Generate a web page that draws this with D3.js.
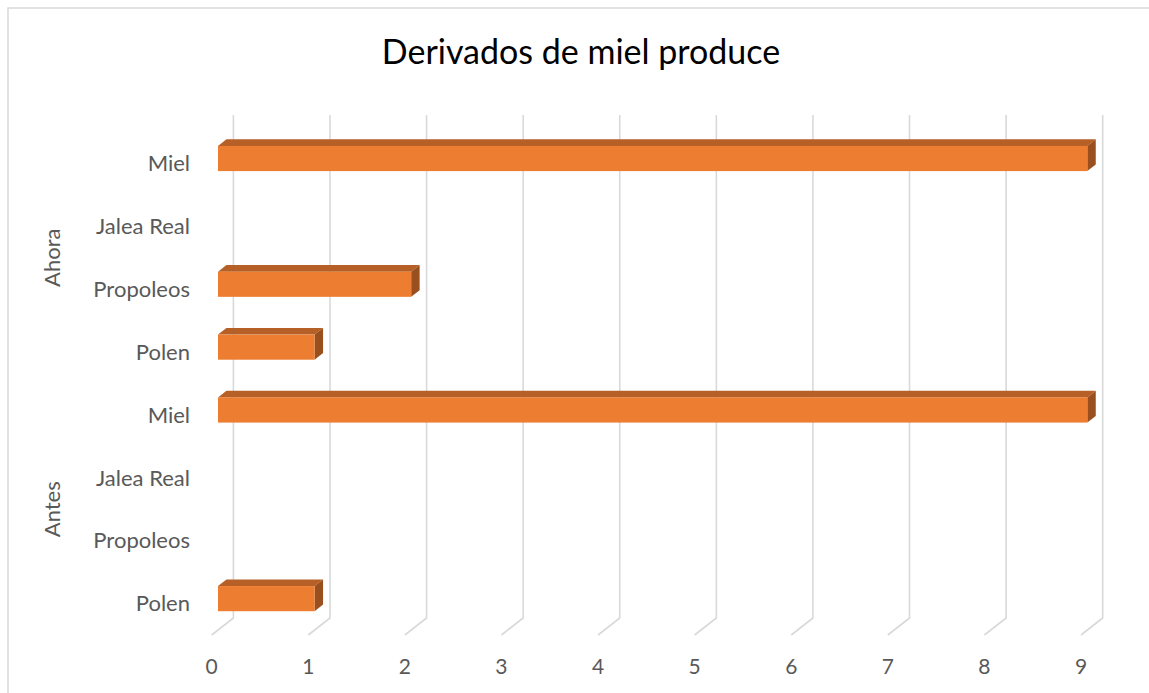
<!DOCTYPE html>
<html>
<head>
<meta charset="utf-8">
<script src="https://cdn.jsdelivr.net/npm/d3@7"></script>
<style>
  html, body { margin: 0; padding: 0; background: #fff; }
  svg { display: block; }
  text { font-family: Lato, "Open Sans", sans-serif; }
</style>
</head>
<body>
<svg id="chart" width="1149" height="693"></svg>
<script>
// Products per period, listed top to bottom as drawn
const groups = ["Ahora", "Antes"];
const products = ["Miel", "Jalea Real", "Propoleos", "Polen"];
const valuesAhora = [9, 0, 2, 1];
const valuesAntes = [9, 0, 0, 1];
const xTicks = [0, 1, 2, 3, 4, 5, 6, 7, 8, 9];
const title = "Derivados de miel produce";

const rows = [];
groups.forEach((g, gi) => {
  const vals = gi === 0 ? valuesAhora : valuesAntes;
  products.forEach((p, pi) => rows.push({ key: g + "|" + p, group: g, product: p, value: vals[pi] }));
});

const svg = d3.select("#chart");

// chart frame
svg.append("rect")
  .attr("x", 8).attr("y", 8).attr("width", 1160).attr("height", 700)
  .attr("fill", "#fff").attr("stroke", "#d9d9d9").attr("stroke-width", 1.5);

// front plane scales plus depth offset of the 3D box
const x = d3.scaleLinear().domain([0, 9]).range([211.7, 1081]);
const y = d3.scaleBand().domain(rows.map(r => r.key)).range([132, 635]).padding(0);
const depth = { dx: 21.7, dy: -17 };
const f0 = 0.29, f1 = 0.68;          // bar front / back within the depth
const barFrac = 0.40;                // bar thickness relative to band

// gridlines: back wall vertical + floor diagonal
const grid = svg.append("g");
grid.selectAll("path").data(xTicks).join("path")
  .attr("d", t => {
    const xf = x(t), xb = xf + depth.dx;
    const top = y.range()[0] + depth.dy, bot = y.range()[1] + depth.dy;
    return `M${xb},${top}L${xb},${bot}L${xf},${y.range()[1]}`;
  })
  .attr("fill", "none").attr("stroke", "#d9d9d9").attr("stroke-width", 1.6);

// x tick labels
svg.append("g").selectAll("text").data(xTicks).join("text")
  .attr("x", t => x(t)).attr("y", 674)
  .attr("text-anchor", "middle")
  .attr("font-size", 21).attr("fill", "#595959")
  .text(t => t);

// 3D bars
const ox = f0 * depth.dx, oy = f0 * depth.dy;
const ddx = (f1 - f0) * depth.dx, ddy = (f1 - f0) * depth.dy;
const bars = svg.append("g").selectAll("g").data(rows.filter(r => r.value > 0)).join("g");
bars.each(function (r) {
  const g = d3.select(this);
  const h = y.bandwidth() * barFrac;
  const cy = y(r.key) + y.bandwidth() / 2 + oy;
  const x0 = x(0) + ox, x1 = x(r.value) + ox;
  const yt = cy - h / 2, yb = cy + h / 2;
  g.append("polygon")
    .attr("points", [[x0, yt], [x1, yt], [x1 + ddx, yt + ddy], [x0 + ddx, yt + ddy]].join(" "))
    .attr("fill", "#b65f26");
  g.append("polygon")
    .attr("points", [[x1, yt], [x1, yb], [x1 + ddx, yb + ddy], [x1 + ddx, yt + ddy]].join(" "))
    .attr("fill", "#9a4f1f");
  g.append("rect")
    .attr("x", x0).attr("y", yt).attr("width", x1 - x0).attr("height", h)
    .attr("fill", "#ed7d31");
});

// category labels
svg.append("g").selectAll("text").data(rows).join("text")
  .attr("x", 190).attr("y", r => y(r.key) + y.bandwidth() / 2)
  .attr("dy", "0.35em")
  .attr("text-anchor", "end")
  .attr("font-size", 22).attr("fill", "#595959")
  .text(r => r.product);

// group labels
groups.forEach(g => {
  const keys = rows.filter(r => r.group === g).map(r => r.key);
  const cy = d3.mean(keys, k => y(k) + y.bandwidth() / 2);
  svg.append("text")
    .attr("transform", `translate(60,${cy}) rotate(-90)`)
    .attr("text-anchor", "middle")
    .attr("font-size", 22).attr("fill", "#595959")
    .text(g);
});

// title
svg.append("text")
  .attr("x", 581).attr("y", 64)
  .attr("text-anchor", "middle")
  .attr("font-size", 34).attr("fill", "#000")
  .text(title);
</script>
</body>
</html>
